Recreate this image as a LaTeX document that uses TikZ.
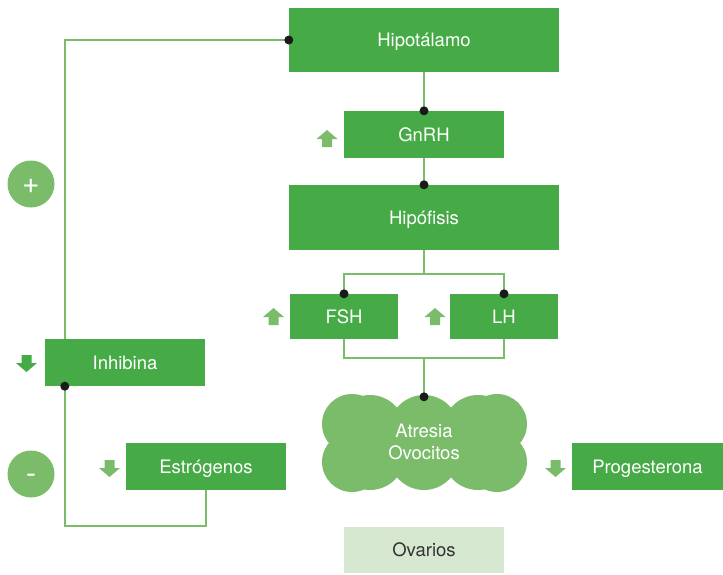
\documentclass[tikz,border=0pt]{standalone}
\usepackage{fontspec}
\setmainfont{TeX Gyre Heros}
\definecolor{boxgreen}{RGB}{70,170,70}
\definecolor{softgreen}{RGB}{123,188,107}
\definecolor{palegreen}{RGB}{214,232,208}
\definecolor{dotblack}{RGB}{26,26,26}
\definecolor{labelgray}{RGB}{51,51,51}
\newcommand{\lbl}{\fontsize{18.5}{22}\selectfont}
\newcommand{\signfont}{\fontsize{30}{30}\selectfont}
\tikzset{
  box/.style={fill=boxgreen, text=white, inner sep=0pt, font=\lbl,
              text height=13.3pt, text depth=0pt},
  conn/.style={draw=softgreen, line width=1.5pt},
  joint/.style={fill=dotblack},
  badge/.style={circle, fill=softgreen, minimum size=47pt, inner sep=0pt},
  sign/.style={text=white, font=\signfont, inner sep=0pt, anchor=base},
  uparrow/.pic={\fill (0,-8.5) -- (10.5,0.5) -- (5,0.5) -- (5,8.5) -- (-5,8.5) -- (-5,0.5) -- (-10.5,0.5) -- cycle;},
  downarrow/.pic={\fill (0,8.5) -- (10.5,-0.5) -- (5,-0.5) -- (5,-8.5) -- (-5,-8.5) -- (-5,-0.5) -- (-10.5,-0.5) -- cycle;}
}
\begin{document}
\begin{tikzpicture}[x=1pt, y=-1pt]
\useasboundingbox (0,0) rectangle (723,574);

% hormone boxes
\node[box, minimum width=270pt, minimum height=64pt] (hipo) at (424,40) {Hipotálamo};
\node[box, minimum width=160pt, minimum height=47pt] (gnrh) at (424,134.5) {GnRH};
\node[box, minimum width=270pt, minimum height=65pt] (hipof) at (424,217.5) {Hipófisis};
\node[box, minimum width=108pt, minimum height=45pt] (fsh) at (344,316.5) {FSH};
\node[box, minimum width=108pt, minimum height=45pt] (lh) at (504,316.5) {LH};
\node[box, minimum width=160pt, minimum height=47pt] (inh) at (125,362.5) {Inhibina};
\node[box, minimum width=160pt, minimum height=47pt] (estr) at (206,466.5) {Estrógenos};
\node[box, minimum width=151pt, minimum height=47pt] (prog) at (647.5,466.5) {Progesterona};
\node[box, fill=palegreen, text=labelgray,
      minimum width=160pt, minimum height=46pt] (ovar) at (424,550) {Ovarios};

% cloud built from overlapping puffs
\begin{scope}[fill=softgreen]
  \fill (370,430) circle (35);
  \fill (424,430) circle (35);
  \fill (478,430) circle (35);
  \fill (370,455) circle (35);
  \fill (424,455) circle (35);
  \fill (478,455) circle (35);
  \fill (352,424) circle (30);
  \fill (352,462) circle (30);
  \fill (497,424) circle (30);
  \fill (497,462) circle (30);
\end{scope}
\node[text=white, font=\lbl, align=center, inner sep=0pt,
      minimum width=205pt, minimum height=95pt] (cloud) at (424,442) {Atresia\\Ovocitos};

% connectors
\draw[conn] (hipo.west) -| ([xshift=20pt]inh.north west);
\draw[conn] (hipo.south) -- (gnrh.north);
\draw[conn] (gnrh.south) -- (hipof.north);
\draw[conn] (hipof.south) -- ([yshift=-24pt]hipof.south);
\draw[conn] (fsh.north) |- ([yshift=-24pt]hipof.south) -| (lh.north);
\coordinate (join) at (424,358);
\draw[conn] (fsh.south) |- (join) -| (lh.south);
\draw[conn] (join) -- ([yshift=-2.5pt]cloud.north);
\draw[conn] ([xshift=20pt]inh.south west) |- ([yshift=-36pt]estr.south) -- (estr.south);

% junction dots
\fill[joint] (hipo.west) circle (4.5);
\fill[joint] (gnrh.north) circle (4.5);
\fill[joint] (hipof.north) circle (4.5);
\fill[joint] (fsh.north) circle (4.5);
\fill[joint] (lh.north) circle (4.5);
\fill[joint] ([yshift=-2.5pt]cloud.north) circle (4.5);
\fill[joint] ([xshift=20pt]inh.south west) circle (4.5);

% up / down markers
\pic[fill=softgreen] at (327,138.5) {uparrow};
\pic[fill=softgreen] at (273.5,316.5) {uparrow};
\pic[fill=softgreen] at (435,316.5) {uparrow};
\pic[fill=boxgreen] at (26.5,363.5) {downarrow};
\pic[fill=softgreen] at (109.5,468.5) {downarrow};
\pic[fill=softgreen] at (555.5,468.5) {downarrow};

% feedback badges
\node[badge] (pos) at (31,184) {};
\node[sign] at (31,193) {+};
\node[badge] (neg) at (31,474) {};
\node[sign] at (31,483) {-};
\end{tikzpicture}
\end{document}
